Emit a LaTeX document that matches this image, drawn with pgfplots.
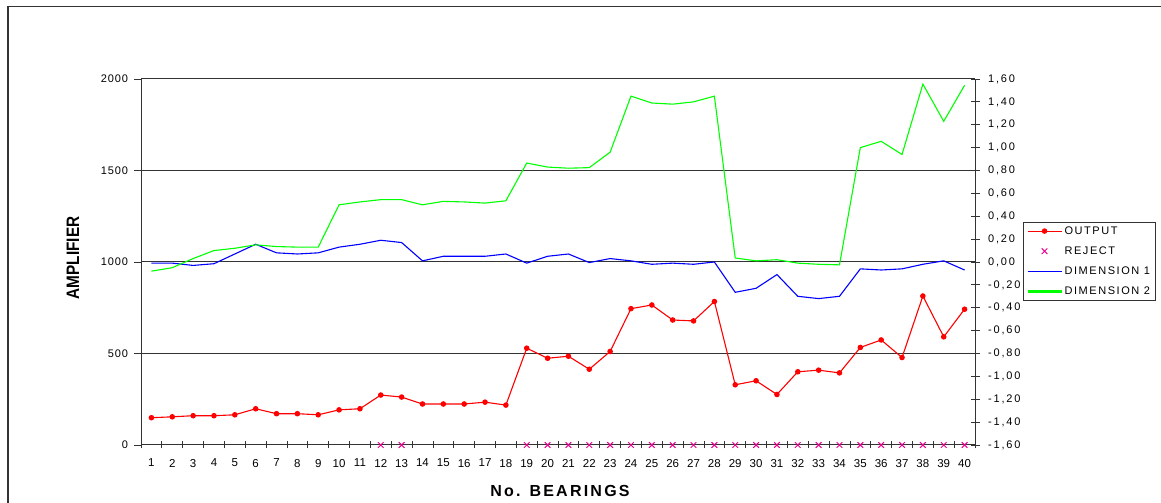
\documentclass[border=0pt]{standalone}
\usepackage{fontspec}
\setmainfont{Liberation Sans}
\newfontfamily\lfont[LetterSpace=8]{Liberation Sans}
\newfontfamily\rfont[LetterSpace=17]{Liberation Sans}
\newfontfamily\legfont[LetterSpace=14]{Liberation Sans}
\newfontfamily\xlabfont[LetterSpace=14]{Liberation Sans}
\usepackage{pgfplots}
\pgfplotsset{compat=1.18}

\pgfplotsset{
  base/.style={
    scale only axis, width=834bp, height=366bp,
    at={(141bp,58bp)}, anchor=south west,
    xmin=0.5, xmax=40.5,
    /pgf/number format/assume math mode=true,
    axis line style={-, black!80, line width=1bp},
    tick style={black!80, line width=0.8bp},
  },
  outp/.style={draw=red, line width=1.1bp, mark=*, mark size=2.2bp, mark options={draw=red, fill=red}},
  rej/.style={only marks, draw=magenta, mark=x, mark size=4bp, line width=1bp},
  dimone/.style={draw=blue, line width=1.1bp},
  dimtwo/.style={draw=green, line width=1.1bp},
}

\begin{document}
\begin{tikzpicture}[x=1bp,y=1bp]
\useasboundingbox (0,0) rectangle (1161,503);
\clip (0,0) rectangle (1161,503);
\draw[black!80, line width=1.5bp] (8,-20) -- (8,496.5) -- (1200,496.5);

% left axis: amplifier output and rejects
\begin{axis}[base,
  ymin=0, ymax=2000, ytick={0,500,1000,1500,2000},
  axis x line*=bottom, axis y line*=left,
  ymajorgrids, major grid style={black!80, line width=1bp},
  xtick={1,...,40}, major x tick style={draw=none},
  minor xtick={0.5,1.5,...,40.5},
  tick align=center, major tick length=7bp, minor tick length=7bp,
  ytick style={xshift=-3.5bp},
  /pgf/number format/1000 sep={},
  yticklabel style={font=\lfont\fontsize{11bp}{13bp}\selectfont, xshift=-6bp},
  xticklabel style={font=\fontsize{11.5bp}{13bp}\selectfont, yshift=-7bp},
  every axis y label/.style={at={(axis description cs:-0.0815,0.511)}, rotate=90, anchor=center},
  every axis x label/.style={at={(axis description cs:0.5024,-0.125)}, anchor=center},
  ylabel={\fontsize{18bp}{20bp}\selectfont\bfseries\scalebox{0.85}[1]{AMPLIFIER}},
  xlabel={\xlabfont\fontsize{16bp}{18bp}\selectfont\bfseries No. BEARINGS},
]
\addplot[outp] coordinates {
(1,149)(2,154)(3,160)(4,160)(5,165)(6,198)(7,171)(8,171)(9,165)(10,192)
(11,198)(12,273)(13,262)(14,224)(15,224)(16,224)(17,234)(18,218)(19,529)(20,474)
(21,485)(22,414)(23,511)(24,745)(25,765)(26,683)(27,678)(28,784)(29,329)(30,351)
(31,276)(32,400)(33,409)(34,394)(35,533)(36,574)(37,478)(38,814)(39,591)(40,742)
};
\addplot[rej] coordinates {
(12,0)(13,0)(19,0)(20,0)(21,0)(22,0)(23,0)(24,0)(25,0)(26,0)(27,0)(28,0)(29,0)(30,0)
(31,0)(32,0)(33,0)(34,0)(35,0)(36,0)(37,0)(38,0)(39,0)(40,0)
};
\end{axis}

% right axis: dimensions
\begin{axis}[base,
  ymin=-1.6, ymax=1.6,
  ytick={-1.6,-1.4,-1.2,-1,-0.8,-0.6,-0.4,-0.2,0,0.2,0.4,0.6,0.8,1,1.2,1.4,1.6},
  axis y line*=right, axis x line=none,
  tick align=center, major tick length=9bp,
  /pgf/number format/.cd, fixed, fixed zerofill, precision=2, use comma, /pgfplots/.cd,
  yticklabel style={font=\rfont\fontsize{11bp}{13bp}\selectfont, xshift=5bp},
  legend image code/.code={\draw[mark repeat=2,mark phase=2,#1] plot coordinates {(0bp,0bp) (17bp,0bp) (34bp,0bp)};},
  legend style={at={(1.0576,0.609)}, anchor=north west, draw=black!80, line width=0.8bp,
    font=\legfont\fontsize{11bp}{13bp}\selectfont, row sep=7bp},
  legend cell align=left,
]
\addlegendimage{outp}
\addlegendentry{OUTPUT}
\addlegendimage{rej}
\addlegendentry{REJECT}
\addlegendimage{draw=blue, color=blue, line width=1.6bp}
\addlegendentry{DIMENSION 1}
\addlegendimage{draw=green, color=green, line width=2.2bp}
\addlegendentry{DIMENSION 2}
\addplot[dimone, forget plot] coordinates {
(1,-0.01)(2,-0.01)(3,-0.03)(4,-0.015)(5,0.07)(6,0.155)(7,0.08)(8,0.07)(9,0.08)(10,0.13)
(11,0.155)(12,0.19)(13,0.17)(14,0.01)(15,0.05)(16,0.05)(17,0.05)(18,0.07)(19,-0.01)(20,0.05)
(21,0.07)(22,-0.005)(23,0.03)(24,0.01)(25,-0.02)(26,-0.01)(27,-0.02)(28,0)(29,-0.265)(30,-0.23)
(31,-0.11)(32,-0.30)(33,-0.32)(34,-0.30)(35,-0.06)(36,-0.07)(37,-0.06)(38,-0.02)(39,0.01)(40,-0.07)
};
\addplot[dimtwo, forget plot] coordinates {
(1,-0.08)(2,-0.05)(3,0.03)(4,0.10)(5,0.12)(6,0.15)(7,0.135)(8,0.13)(9,0.13)(10,0.50)
(11,0.525)(12,0.545)(13,0.545)(14,0.50)(15,0.53)(16,0.525)(17,0.515)(18,0.535)(19,0.865)(20,0.83)
(21,0.82)(22,0.825)(23,0.96)(24,1.45)(25,1.39)(26,1.38)(27,1.40)(28,1.45)(29,0.035)(30,0.01)
(31,0.02)(32,-0.01)(33,-0.02)(34,-0.025)(35,1.00)(36,1.055)(37,0.94)(38,1.555)(39,1.23)(40,1.545)
};
\end{axis}
\end{tikzpicture}
\end{document}
